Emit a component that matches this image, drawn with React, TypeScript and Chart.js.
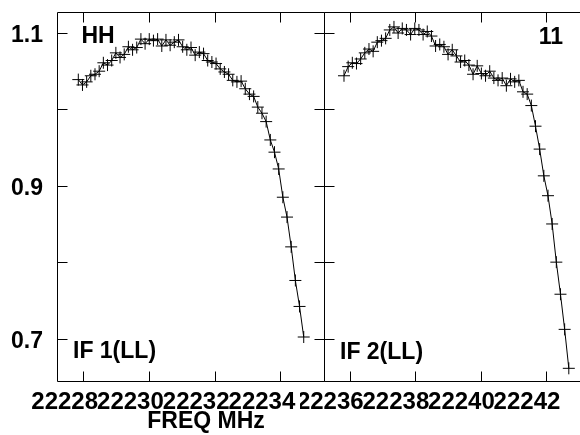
import React, { useEffect, useRef } from "react";
import { Chart, registerables } from "chart.js";

Chart.register(...registerables);

// ---- data ----
const yMin = 0.6444;
const yMax = 1.1275;
const yTickValues = [0.7, 0.8, 0.9, 1.0, 1.1];
const yLabelValues = [0.7, 0.9, 1.1];

const leftXTicks = [22228, 22230, 22232, 22234];
const rightXTicks = [22236, 22238, 22240, 22242];
const leftXRange = [22227.203, 22235.326];
const rightXRange = [22235.213, 22243.358];

const channelWidth = 0.127; // MHz
const leftFirstChannel = 22227.851;
const rightFirstChannel = 22235.823;

const leftValues = [
  1.039, 1.032, 1.036, 1.044, 1.046, 1.05, 1.061, 1.058, 1.064, 1.074,
  1.068, 1.072, 1.082, 1.078, 1.081, 1.092, 1.086, 1.092, 1.09, 1.092,
  1.083, 1.091, 1.084, 1.088, 1.091, 1.082, 1.078, 1.081, 1.071, 1.075,
  1.073, 1.064, 1.062, 1.06, 1.053, 1.049, 1.046, 1.038, 1.036, 1.037,
  1.027, 1.02, 1.017, 1.003, 0.995, 0.984, 0.96, 0.944, 0.922, 0.885,
  0.859, 0.82, 0.776, 0.742, 0.702,
];

const rightValues = [
  1.044, 1.056, 1.061, 1.06, 1.066, 1.074, 1.079, 1.076, 1.088, 1.09,
  1.093, 1.104, 1.108, 1.1, 1.106, 1.104, 1.098, 1.106, 1.104, 1.098,
  1.102, 1.096, 1.083, 1.085, 1.082, 1.072, 1.078, 1.07, 1.062, 1.064,
  1.058, 1.046, 1.057, 1.047, 1.044, 1.05, 1.041, 1.038, 1.041, 1.031,
  1.04, 1.036, 1.038, 1.023, 1.02, 1.005, 0.978, 0.948, 0.913, 0.887,
  0.85, 0.8, 0.758, 0.712, 0.661,
];

const FONT_FAMILY = '"Liberation Sans", Arial, Helvetica, sans-serif';
const FONT = { family: FONT_FAMILY, size: 23, weight: "bold" as const };
const X_FONT = { family: FONT_FAMILY, size: 24, weight: "bold" as const };

type TextItem = { text: string; x: number; y: number; align: CanvasTextAlign };

function zeroPadding(s: any) {
  s.paddingTop = 0;
  s.paddingBottom = 0;
  s.paddingLeft = 0;
  s.paddingRight = 0;
}

function makeFramePlugin(xTicks: number[], texts: TextItem[]) {
  return {
    id: "frameAndTicks",
    afterDatasetsDraw(chart: any) {
      const { ctx, chartArea: a, scales } = chart;
      const L = Math.round(a.left) + 0.5;
      const R = Math.round(a.right) + 0.5;
      const T = Math.round(a.top) + 0.5;
      const B = Math.round(a.bottom) + 0.5;
      const tl = 10;
      ctx.save();
      ctx.strokeStyle = "#000";
      ctx.lineWidth = 1;
      ctx.beginPath();
      ctx.rect(L, T, R - L, B - T);
      for (const v of yTickValues) {
        const y = Math.round(scales.y.getPixelForValue(v)) + 0.5;
        ctx.moveTo(L, y);
        ctx.lineTo(L + tl, y);
        ctx.moveTo(R, y);
        ctx.lineTo(R - tl, y);
      }
      for (const v of xTicks) {
        const x = Math.round(scales.x.getPixelForValue(v)) + 0.5;
        ctx.moveTo(x, B);
        ctx.lineTo(x, B - tl);
        ctx.moveTo(x, T);
        ctx.lineTo(x, T + tl);
      }
      ctx.stroke();
      ctx.fillStyle = "#000";
      ctx.font = `bold 23px ${FONT_FAMILY}`;
      ctx.textBaseline = "middle";
      for (const t of texts) {
        ctx.textAlign = t.align;
        ctx.fillText(t.text, t.x, t.y);
      }
      ctx.restore();
    },
  };
}

function buildChart(
  canvas: HTMLCanvasElement,
  freqStart: number,
  values: number[],
  xRange: number[],
  xTicks: number[],
  showY: boolean,
  padding: { left: number; right: number; top: number; bottom: number },
  labelOffset: number,
  texts: TextItem[]
) {
  const data = values.map((v, i) => ({ x: freqStart + i * channelWidth, y: v }));
  return new Chart(canvas, {
    type: "line",
    data: {
      datasets: [
        {
          data,
          borderColor: "#000",
          borderWidth: 1,
          pointStyle: "cross",
          pointRadius: 6,
          pointBorderWidth: 1,
          pointBorderColor: "#000",
          pointBackgroundColor: "#000",
          tension: 0,
          fill: false,
        },
      ],
    },
    options: {
      responsive: false,
      animation: false,
      events: [],
      layout: { padding, autoPadding: false } as any,
      plugins: { legend: { display: false }, tooltip: { enabled: false } },
      scales: {
        x: {
          type: "linear",
          position: "bottom",
          min: xRange[0],
          max: xRange[1],
          afterBuildTicks: (s: any) => {
            s.ticks = xTicks.map((v) => ({ value: v }));
          },
          afterFit: (s: any) => {
            s.height = 54;
            zeroPadding(s);
          },
          grid: { display: false, drawTicks: false },
          border: { display: false },
          ticks: {
            color: "#000",
            font: X_FONT,
            padding: 7,
            labelOffset,
            maxRotation: 0,
            minRotation: 0,
            autoSkip: false,
            callback: (v: any) => String(v),
          },
        },
        y: {
          type: "linear",
          position: "left",
          display: showY,
          min: yMin,
          max: yMax,
          afterBuildTicks: (s: any) => {
            s.ticks = yLabelValues.map((v) => ({ value: v }));
          },
          afterFit: (s: any) => {
            s.width = showY ? 57 : 0;
            zeroPadding(s);
          },
          grid: { display: false, drawTicks: false },
          border: { display: false },
          ticks: {
            color: "#000",
            font: FONT,
            padding: 14,
            labelOffset: 3,
            callback: (v: any) => Number(v).toFixed(1),
          },
        },
      },
    },
    plugins: [makeFramePlugin(xTicks, texts)],
  } as any);
}

export default function App() {
  const leftRef = useRef<HTMLCanvasElement>(null);
  const rightRef = useRef<HTMLCanvasElement>(null);

  useEffect(() => {
    const RIGHT_OFFSET = 300;
    const left = buildChart(
      leftRef.current!,
      leftFirstChannel,
      leftValues,
      leftXRange,
      leftXTicks,
      true,
      { left: 0, right: 16, top: 12, bottom: 0 },
      -18.5,
      [
        { text: "HH", x: 81.5, y: 37, align: "left" },
        { text: "IF 1(LL)", x: 73, y: 352, align: "left" },
        { text: "FREQ MHz", x: 206, y: 422, align: "center" },
      ]
    );
    const right = buildChart(
      rightRef.current!,
      rightFirstChannel,
      rightValues,
      rightXRange,
      rightXTicks,
      false,
      { left: 24, right: 19, top: 12, bottom: 0 },
      -19.5,
      [
        { text: "11", x: 563 - RIGHT_OFFSET, y: 37.5, align: "right" },
        { text: "IF 2(LL)", x: 340 - RIGHT_OFFSET, y: 353, align: "left" },
      ]
    );
    return () => {
      left.destroy();
      right.destroy();
    };
  }, []);

  return (
    <div
      style={{
        position: "fixed",
        left: 0,
        top: 0,
        width: 580,
        height: 435,
        overflow: "hidden",
        background: "#fff",
      }}
    >
      <canvas
        ref={leftRef}
        width={340}
        height={435}
        style={{ position: "absolute", left: 0, top: 0, width: 340, height: 435 }}
      />
      <canvas
        ref={rightRef}
        width={310}
        height={435}
        style={{ position: "absolute", left: 300, top: 0, width: 310, height: 435 }}
      />
    </div>
  );
}
